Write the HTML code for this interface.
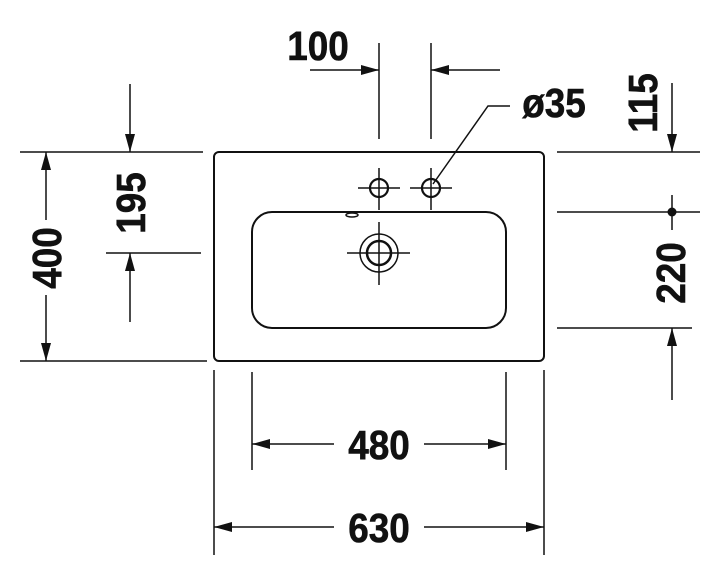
<!DOCTYPE html>
<html><head><style>
html,body{margin:0;padding:0;background:#fff;}
svg{display:block;}
text{font-family:"Liberation Sans",sans-serif;font-weight:bold;font-size:41px;fill:#111;stroke:#111;stroke-width:0.6;}
</style></head><body>
<svg width="720" height="576" viewBox="0 0 720 576" xmlns="http://www.w3.org/2000/svg">
<defs>
<marker id="a" viewBox="0 0 18 10" refX="18" refY="5" markerWidth="18" markerHeight="10" markerUnits="userSpaceOnUse" orient="auto"><path d="M0,0L18,5L0,10z" fill="#111"/></marker>
</defs>
<g stroke="#111" stroke-width="1.5" fill="none">
<rect x="214" y="152" width="330" height="209" rx="5" stroke-width="2"/>
<rect x="252" y="212" width="254" height="116" rx="20" stroke-width="2"/>
<ellipse cx="352" cy="215" rx="6" ry="2"/>
<circle cx="379" cy="188" r="9" stroke-width="2.2"/>
<circle cx="431" cy="188" r="9" stroke-width="2.2"/>
<path d="M358,188H400M379,168V210M410,188H452M431,168V210"/>
<circle cx="379" cy="253" r="12" stroke-width="2.5"/>
<circle cx="379" cy="253" r="19"/>
<path d="M347,253H410M379,222V285"/>
<path d="M379,43V139M431,43V139"/>
<path d="M310,70H379" marker-end="url(#a)"/>
<path d="M500,70H431" marker-end="url(#a)"/>
<path d="M510,106H488L433,184"/>
<path d="M557,152H700M557,212H700M557,328H692M672,195V230"/>
<path d="M672,83V152" marker-end="url(#a)"/>
<path d="M672,400V328" marker-end="url(#a)"/>
<path d="M20,152H203M20,361H207M106,253H201"/>
<path d="M46,220V152" marker-end="url(#a)"/>
<path d="M46,295V361" marker-end="url(#a)"/>
<path d="M130,84V152" marker-end="url(#a)"/>
<path d="M130,322V253" marker-end="url(#a)"/>
<path d="M214,370V555M544,370V555M252,372V470M506,372V470"/>
<path d="M334,444H252" marker-end="url(#a)"/>
<path d="M424,444H506" marker-end="url(#a)"/>
<path d="M334,527H214" marker-end="url(#a)"/>
<path d="M424,527H544" marker-end="url(#a)"/>
</g>
<circle cx="672" cy="212" r="4.5" fill="#111"/>
<text transform="translate(318,60) scale(0.9,1)" text-anchor="middle">100</text>
<text transform="translate(554,117) scale(0.9,1)" text-anchor="middle">ø35</text>
<text transform="translate(379,459) scale(0.9,1)" text-anchor="middle">480</text>
<text transform="translate(379,542) scale(0.9,1)" text-anchor="middle">630</text>
<text transform="translate(61,258) rotate(-90) scale(0.9,1)" text-anchor="middle">400</text>
<text transform="translate(145,203) rotate(-90) scale(0.9,1)" text-anchor="middle">195</text>
<text transform="translate(657,103) rotate(-90) scale(0.9,1)" text-anchor="middle">115</text>
<text transform="translate(685,273) rotate(-90) scale(0.9,1)" text-anchor="middle">220</text>
</svg>
</body></html>
